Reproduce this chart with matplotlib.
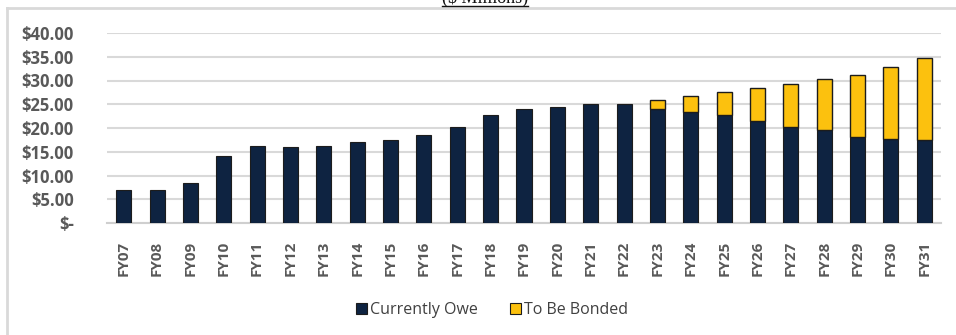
import matplotlib
matplotlib.use("Agg")
import matplotlib.pyplot as plt
from matplotlib.lines import Line2D
from matplotlib.patches import Patch
import numpy as np

years = ["FY07", "FY08", "FY09", "FY10", "FY11", "FY12", "FY13", "FY14", "FY15",
         "FY16", "FY17", "FY18", "FY19", "FY20", "FY21", "FY22", "FY23", "FY24",
         "FY25", "FY26", "FY27", "FY28", "FY29", "FY30", "FY31"]
currently_owe = [7.0, 7.0, 8.4, 14.2, 16.3, 16.1, 16.3, 17.0, 17.5, 18.6, 20.3,
                 22.8, 24.0, 24.4, 25.05, 25.05, 24.0, 23.4, 22.8, 21.5, 20.3,
                 19.5, 18.2, 17.7, 17.4]
to_be_bonded = [0, 0, 0, 0, 0, 0, 0, 0, 0, 0, 0, 0, 0, 0, 0, 0,
                2.0, 3.4, 4.7, 6.9, 9.0, 10.9, 13.0, 15.1, 17.3]
y_ticks = [0, 5, 10, 15, 20, 25, 30, 35, 40]
y_labels = ["$-", "$5.00", "$10.00", "$15.00", "$20.00", "$25.00", "$30.00",
            "$35.00", "$40.00"]

NAVY = "#0e2341"
GOLD = "#fcc10e"
EDGE = "#1c1c1c"
GRID = "#d9d9d9"
TXT = "#595959"

W, H = 956, 335
fig = plt.figure(figsize=(W / 100, H / 100), dpi=100)
ax = fig.add_axes([107 / W, 1 - 223 / H, (941 - 107) / W, (223 - 33) / H])

x = np.arange(len(years))
ax.bar(x, currently_owe, width=0.45, color=NAVY, edgecolor=EDGE, linewidth=0.8,
       zorder=3, label="Currently Owe")
mask = np.array(to_be_bonded) > 0
ax.bar(x[mask], np.array(to_be_bonded)[mask], width=0.45,
       bottom=np.array(currently_owe)[mask], color=GOLD, edgecolor=EDGE,
       linewidth=1.0, zorder=3, label="To Be Bonded")

ax.set_xlim(-0.5, len(years) - 0.5)
ax.set_ylim(0, 40)
ax.set_yticks(y_ticks)
ax.set_yticklabels(y_labels)
ax.set_xticks(x)
ax.set_xticklabels(years, rotation=90)
for lab in ax.get_yticklabels():
    lab.set_fontfamily("Open Sans")
    lab.set_fontweight("bold")
    lab.set_fontsize(12)
    lab.set_color(TXT)
for lab in ax.get_xticklabels():
    lab.set_fontfamily("Open Sans")
    lab.set_fontweight("bold")
    lab.set_fontsize(11)
    lab.set_color(TXT)
ax.tick_params(axis="y", length=0, pad=24)
ax.tick_params(axis="x", length=0, pad=13)

ax.grid(axis="y", color=GRID, linewidth=1.5, zorder=0)
for s in ["top", "right", "left"]:
    ax.spines[s].set_visible(False)
ax.spines["bottom"].set_color("#cfcfcf")
ax.spines["bottom"].set_linewidth(1.5)

handles = [Patch(facecolor=NAVY, edgecolor=EDGE, linewidth=0.8),
           Patch(facecolor=GOLD, edgecolor=EDGE, linewidth=0.8)]
leg = fig.legend(handles, ["Currently Owe", "To Be Bonded"], loc="center",
                 bbox_to_anchor=(492 / W, 1 - 310 / H), ncol=2, frameon=False,
                 handlelength=0.7, handleheight=0.7, handletextpad=0.2,
                 columnspacing=2.0, prop={"family": "Open Sans", "size": 11.5})
for t in leg.get_texts():
    t.set_color("#404040")

# outer frame (left and top edges)
fig.add_artist(Line2D([7 / W, 7 / W], [0, 1 - 8 / H], color=GRID, linewidth=2))
fig.add_artist(Line2D([7 / W, 1], [1 - 8 / H, 1 - 8 / H], color=GRID, linewidth=2))

# title, underlined
title = fig.text(485 / W, 1 - 3 / H, "($ Millions)", ha="center", va="baseline",
                 family="Liberation Serif", fontsize=13, color="#111111")
fig.canvas.draw()
bb = title.get_window_extent()
fig.add_artist(Line2D([bb.x0 / W, bb.x1 / W], [1 - 5.5 / H, 1 - 5.5 / H],
                      color="#111111", linewidth=1))

fig.savefig("out.png", dpi=100)
